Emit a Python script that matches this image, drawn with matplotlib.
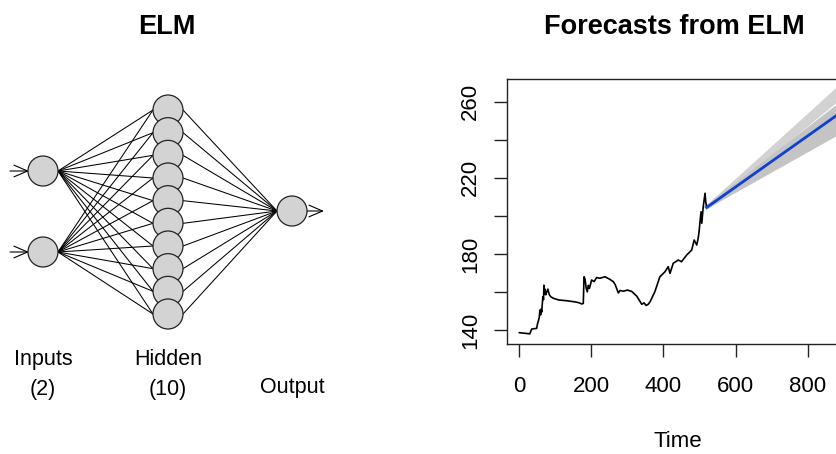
import matplotlib
matplotlib.use("Agg")
import matplotlib.pyplot as plt
from matplotlib.patches import Circle

plt.rcParams['font.family'] = ['Liberation Sans', 'DejaVu Sans']

# ---------------- data ----------------
layer_names = ["Inputs", "Hidden", "Output"]
layer_sizes = [2, 10, 1]

hist_t = [1, 11, 30, 35, 49, 51, 56, 58, 60, 61, 63, 66, 68, 69, 71, 72, 74, 77, 80, 84, 88, 95,
          110, 132, 155, 165, 174, 178, 180, 183, 186, 189, 192, 195, 198, 201, 208, 215, 224,
          238, 252, 261, 266, 275, 280, 289, 300, 312, 326, 340, 346, 352, 358, 363, 376, 390,
          404, 413, 418, 427, 441, 450, 464, 478, 485, 492, 496, 499, 501, 504, 506, 510, 515, 517, 519]
hist_v = [138.6, 138.4, 138.0, 140.5, 140.9, 143.0, 146.5, 150.5, 148.0, 151.0, 149.5, 157.5, 156.0,
          163.6, 159.0, 161.5, 158.5, 160.1, 161.5, 158.5, 157.5, 156.7, 155.8, 155.4, 154.8, 154.4,
          153.7, 154.0, 168.0, 166.6, 162.0, 160.1, 163.5, 161.9, 164.0, 166.3, 165.5, 167.6, 167.2,
          168.0, 166.6, 165.4, 164.0, 159.5, 160.8, 160.4, 161.0, 160.3, 157.8, 153.5, 154.3, 152.9,
          153.6, 154.9, 160.1, 168.0, 170.6, 173.3, 169.8, 175.1, 176.8, 175.9, 179.4, 182.0, 187.3,
          184.7, 188.2, 192.6, 196.9, 202.2, 196.1, 204.8, 211.9, 207.4, 205.0]

fc_t = [520, 885]
fc_v = [204.5, 253.6]
ens_end = [267.3, 266.2, 265.0, 263.8, 262.5, 261.3, 258.2, 257.2, 256.2, 255.2, 254.2,
           253.2, 252.2, 251.2, 250.2, 249.0, 247.8, 246.5, 245.0, 243.4]

x_ticks = [0, 200, 400, 600, 800]
y_ticks = [140, 160, 180, 200, 220, 240, 260]
y_ticklabels = ["140", "", "180", "", "220", "", "260"]

# ---------------- figure ----------------
W, H = 836, 454
fig = plt.figure(figsize=(W / 100, H / 100), dpi=100)

# ---- left: network diagram (pixel coordinates) ----
axn = fig.add_axes([0, 0, 340 / W, 1])
axn.set_xlim(0, 340)
axn.set_ylim(H, 0)
axn.axis("off")

layer_x = [43, 168, 292]
r = 15
centers = []
for lx, n, name in zip(layer_x, layer_sizes, layer_names):
    if n == 1:
        ys = [211]
    elif n == 2:
        ys = [171, 252]
    else:
        top, bot = 110, 314
        ys = [top + i * (bot - top) / (n - 1) for i in range(n)]
    centers.append([(lx, y) for y in ys])

# edges
for a, b in zip(centers[:-1], centers[1:]):
    for (x0, y0) in a:
        for (x1, y1) in b:
            axn.plot([x0 + r, x1 - r], [y0, y1], color="black", lw=0.75, zorder=1)

# nodes
for layer in centers:
    for (x, y) in layer:
        axn.add_patch(Circle((x, y), r, facecolor="#d3d3d3", edgecolor="#222222", lw=0.9, zorder=3))

# arrows
arrow_kw = dict(arrowstyle="->,head_length=0.7,head_width=0.3", lw=0.8, color="black",
                mutation_scale=14, shrinkA=0, shrinkB=0)
for (x, y) in centers[0]:
    axn.annotate("", xy=(x - r + 1, y), xytext=(10, y), arrowprops=arrow_kw, zorder=2)
for (x, y) in centers[-1]:
    axn.annotate("", xy=(x + r + 17, y), xytext=(x + r, y), arrowprops=arrow_kw, zorder=2)

# labels
for lx, n, name in zip(layer_x, layer_sizes, layer_names):
    if n > 1:
        axn.text(lx, 365, name, ha="center", va="baseline", fontsize=15.5)
        axn.text(lx, 395, f"({n})", ha="center", va="baseline", fontsize=15.5)
    else:
        axn.text(lx, 393, name, ha="center", va="baseline", fontsize=15.5)

axn.text(167, 34, "ELM", ha="center", va="baseline", fontsize=19.5, fontweight="bold")

# ---- right: forecast plot ----
left_px, top_px, bot_px = 506.7, 79.3, 344.3
xmin, xmax = -34, 911
ymin, ymax = 132.5, 271.8
px_per_t = (808 - 519) / 800
right_px = 519 + xmax * px_per_t
ax = fig.add_axes([left_px / W, 1 - bot_px / H, (right_px - left_px) / W, (bot_px - top_px) / H])
ax.set_xlim(xmin, xmax)
ax.set_ylim(ymin, ymax)

for i, e in enumerate(ens_end):
    ax.plot(fc_t, [fc_v[0], e], color="#d2d2d2" if e > 260 else "#c4c4c4", lw=2.2, zorder=1)
ax.plot(hist_t, hist_v, color="black", lw=1.2, zorder=3)
ax.plot(fc_t, fc_v, color="#1040d0", lw=2.0, zorder=4)

ax.spines["right"].set_visible(False)
for s in ["left", "bottom", "top"]:
    ax.spines[s].set_linewidth(1.0)
    ax.spines[s].set_color("#222222")

ax.set_xticks(x_ticks)
ax.set_xticklabels([str(v) for v in x_ticks])
ax.set_yticks(y_ticks)
ax.set_yticklabels(y_ticklabels)
ax.tick_params(axis="both", length=9.6, width=1.0, labelsize=16, color="#222222")
ax.tick_params(axis="x", pad=13.5)
ax.tick_params(axis="y", pad=9)
for lab in ax.get_yticklabels():
    lab.set_rotation(90)
    lab.set_va("center")
    lab.set_ha("right")

ax.set_xlabel("Time", fontsize=16, labelpad=24)
fig.text(674 / W, 1 - 34 / H, "Forecasts from ELM", ha="center", va="baseline",
         fontsize=19.5, fontweight="bold")

fig.savefig("out.png", dpi=100)
